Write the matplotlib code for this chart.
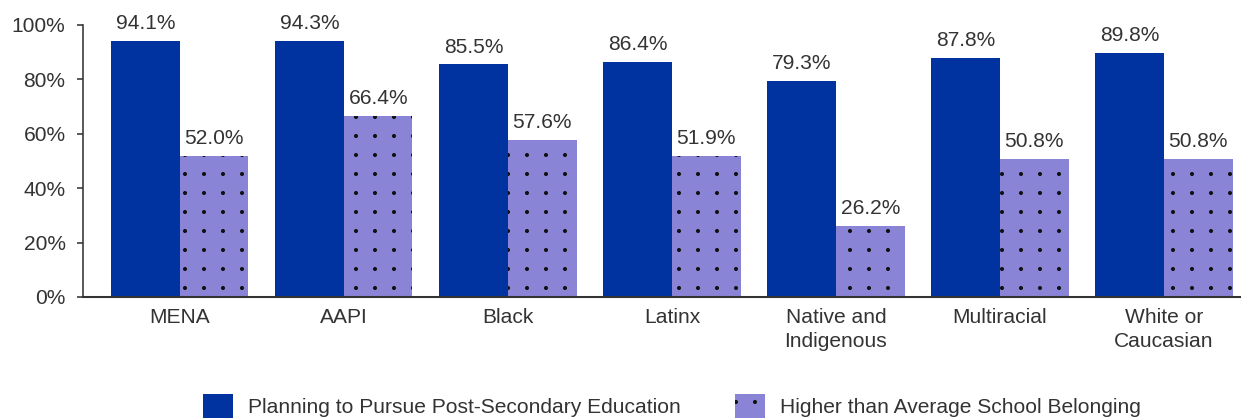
import matplotlib
matplotlib.use("Agg")
import matplotlib.pyplot as plt
from matplotlib import hatch as mhatch
from matplotlib.path import Path
import numpy as np

categories = ["MENA", "AAPI", "Black", "Latinx", "Native and\nIndigenous", "Multiracial", "White or\nCaucasian"]
planning = [94.1, 94.3, 85.5, 86.4, 79.3, 87.8, 89.8]
belonging = [52.0, 66.4, 57.6, 51.9, 26.2, 50.8, 50.8]
series_names = ["Planning to Pursue Post-Secondary Education", "Higher than Average School Belonging"]
yticks = [0, 20, 40, 60, 80, 100]
ytick_labels = ["0%", "20%", "40%", "60%", "80%", "100%"]

DPI = 114
W, H = 1241, 420


class GridDots(mhatch.HatchPatternBase):
    """Aligned (non-staggered) grid of small filled dots for the '.' hatch."""
    radius = 0.0135
    phase_x = 14 / 114
    phase_y = 16 / 114

    def __init__(self, hatch, density):
        self.num_rows = hatch.count('.') * density
        circ = Path.unit_circle()
        self.shape_vertices = circ.vertices
        self.shape_codes = circ.codes
        self.num_vertices = self.num_rows * self.num_rows * len(self.shape_vertices)

    def set_vertices_and_codes(self, vertices, codes):
        n = self.num_rows
        sv = self.shape_vertices * self.radius
        L = len(sv)
        k = 0
        for r in range(n):
            for c in range(n):
                vertices[k:k + L] = sv + [c / n + self.phase_x, r / n + self.phase_y]
                codes[k:k + L] = self.shape_codes
                k += L


mhatch._hatch_types = [GridDots if t is mhatch.SmallFilledCircles else t for t in mhatch._hatch_types]

plt.rcParams['font.family'] = ['Liberation Sans', 'DejaVu Sans']
plt.rcParams['hatch.color'] = '#111111'
plt.rcParams['hatch.linewidth'] = 0.6
text_color = '#333333'
blue = '#0033A0'
purple = '#8A84D6'
fs = 13.3

fig = plt.figure(figsize=(W / DPI, H / DPI), dpi=DPI)
left_px, right_px, top_px, bottom_px = 83, 1246, 25, 297
ax = fig.add_axes([left_px / W, 1 - bottom_px / H, (right_px - left_px) / W, (bottom_px - top_px) / H])

x = np.arange(len(categories))
w = 0.418
b1 = ax.bar(x - w / 2, planning, width=w, color=blue, linewidth=0, label=series_names[0])
b2 = ax.bar(x + w / 2, belonging, width=w, color=purple, linewidth=0, hatch='.', label=series_names[1])

for rect, v in zip(list(b1) + list(b2), planning + belonging):
    ax.annotate(f"{v:.1f}%", (rect.get_x() + rect.get_width() / 2, v), xytext=(0, 5),
                textcoords='offset points', ha='center', va='bottom', fontsize=fs, color=text_color)

ax.set_xlim(-0.591, 6.5)
ax.set_ylim(0, 100)
ax.set_yticks(yticks)
ax.set_yticklabels(ytick_labels, fontsize=fs, color=text_color)
ax.set_xticks(x)
ax.set_xticklabels(categories, fontsize=fs, color=text_color, linespacing=1.35)
ax.tick_params(axis='x', length=0, pad=7)
ax.tick_params(axis='y', length=4, width=1, direction='out', pad=7, color='#333333')
for s in ['top', 'right']:
    ax.spines[s].set_visible(False)
ax.spines['left'].set_color('#333333')
ax.spines['bottom'].set_color('#333333')
ax.spines['left'].set_linewidth(1.0)
ax.spines['bottom'].set_linewidth(1.3)

leg = fig.legend(handles=[b1, b2], labels=series_names, loc='center', ncol=2,
                 bbox_to_anchor=(672 / W, 1 - 406 / H), frameon=False, fontsize=fs,
                 handlelength=1.43, handleheight=1.43, handletextpad=0.71, columnspacing=2.57,
                 borderpad=0, borderaxespad=0)
for t in leg.get_texts():
    t.set_color(text_color)

fig.savefig("out.png", dpi=DPI)
